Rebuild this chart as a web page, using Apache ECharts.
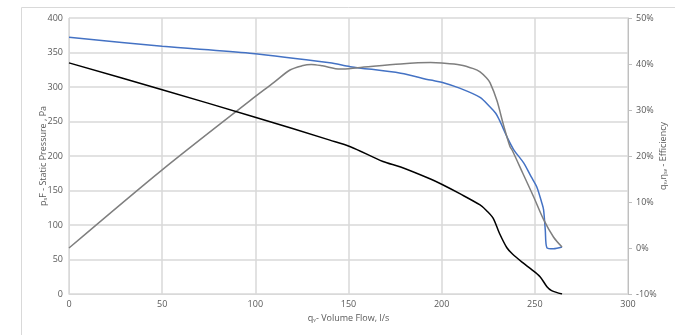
<!DOCTYPE html>
<html>
<head>
<meta charset="utf-8">
<script src="https://cdn.jsdelivr.net/npm/echarts@6/dist/echarts.min.js"></script>
<style>
  html, body { margin: 0; padding: 0; background: #fff; }
  #main { width: 675px; height: 335px; }
</style>
</head>
<body>
<div id="main"></div>
<script>
// static pressure (blue), left axis
const flowBlue = [0, 50, 97, 140, 151, 178, 194, 200, 210, 220.6, 226, 229, 231, 233, 235, 238.7, 244, 248, 251, 253.8, 254.7, 255.6, 256.5, 260, 264.6]
const pressureBlue = [372, 359, 349, 335, 329.5, 320, 310, 307, 298, 285, 271, 262, 252, 240, 228, 209, 190, 170, 155.5, 131.5, 122, 93, 67, 65.5, 68]

// black curve, left axis
const flowBlack = [0, 50, 99, 140, 151, 168.5, 178, 194, 200, 210, 220.6, 224, 227.6, 231, 235, 238, 243.7, 248, 252.8, 256.5, 259, 264.6]
const pressureBlack = [335, 296, 257, 223, 213.5, 192, 184, 166.6, 159, 145, 129, 121, 110, 88, 67, 58, 45, 36, 25, 10.6, 5, 0]

// efficiency (grey), right axis, %
const flowGrey = [0, 50, 97, 110, 118.6, 125, 130, 136, 145.5, 155, 178, 194, 200, 210, 217, 220.6, 224, 226, 229.7, 233, 236.7, 237.8, 243.6, 249.4, 254.8, 260, 264.6]
const efficiency = [0, 17, 32, 36, 38.7, 39.6, 39.9, 39.6, 38.9, 39.2, 40, 40.3, 40.2, 39.8, 39, 38.3, 37, 35.9, 32, 27, 22, 21.3, 16.2, 11.1, 6.1, 2.4, 0.2]

const pairs = (xs, ys) => xs.map((x, i) => [x, ys[i]])

const labelColor = '#595959'
const gridColor = '#d9d9d9'
const font = 'Open Sans'

const myChart = echarts.init(document.getElementById('main'))

const option = {
  animation: false,
  graphic: [
    {
      type: 'rect',
      shape: { x: 21.5, y: 7.5, width: 700, height: 400 },
      style: { fill: 'none', stroke: '#d9d9d9', lineWidth: 1 },
      silent: true,
      z: -10,
    },
  ],
  grid: { left: 69, right: 47, top: 18, bottom: 41, outerBoundsMode: 'none' },
  xAxis: {
    type: 'value',
    min: 0,
    max: 300,
    interval: 50,
    name: 'qᵥ- Volume Flow, l/s',
    nameLocation: 'middle',
    nameGap: 20,
    nameMoveOverlap: false,
    nameTextStyle: { color: labelColor, fontSize: 9, fontFamily: font },
    axisLine: { show: true, lineStyle: { color: gridColor } },
    axisTick: { show: false },
    axisLabel: { color: labelColor, fontSize: 9, fontFamily: font, margin: 6 },
    splitLine: { show: true, lineStyle: { color: gridColor, width: 1.5 } },
  },
  yAxis: [
    {
      type: 'value',
      min: 0,
      max: 400,
      interval: 50,
      name: 'pₛF - Static Pressure , Pa',
      nameLocation: 'middle',
      nameRotate: 90,
      nameGap: 21,
      nameMoveOverlap: false,
      nameTextStyle: { color: labelColor, fontSize: 9, fontFamily: font },
      axisLine: { show: true, lineStyle: { color: gridColor } },
      axisTick: { show: false },
      axisLabel: { color: labelColor, fontSize: 9, fontFamily: font, margin: 6 },
      splitLine: { show: true, lineStyle: { color: gridColor, width: 1.5 } },
    },
    {
      type: 'value',
      position: 'right',
      min: -10,
      max: 50,
      interval: 10,
      name: 'qᵥ,ηₛₑ - Efficiency',
      nameLocation: 'middle',
      nameRotate: 90,
      nameGap: 31,
      nameMoveOverlap: false,
      nameTextStyle: { color: labelColor, fontSize: 9, fontFamily: font },
      axisLine: { show: true, lineStyle: { color: '#bfbfbf' } },
      axisTick: { show: true, length: 4, lineStyle: { color: '#bfbfbf' } },
      axisLabel: { color: labelColor, fontSize: 9, fontFamily: font, margin: 8, formatter: '{value}%' },
      splitLine: { show: false },
    },
  ],
  series: [
    {
      name: 'Static Pressure',
      type: 'line',
      yAxisIndex: 0,
      smooth: 0.3,
      showSymbol: false,
      lineStyle: { color: '#4472c4', width: 1.5 },
      data: pairs(flowBlue, pressureBlue),
    },
    {
      name: 'Efficiency',
      type: 'line',
      yAxisIndex: 1,
      smooth: 0.3,
      showSymbol: false,
      lineStyle: { color: '#7f7f7f', width: 1.5 },
      data: pairs(flowGrey, efficiency),
    },
    {
      name: 'Pressure 2',
      type: 'line',
      yAxisIndex: 0,
      smooth: 0.3,
      showSymbol: false,
      lineStyle: { color: '#000000', width: 1.5 },
      data: pairs(flowBlack, pressureBlack),
    },
  ],
}

option && myChart.setOption(option)
</script>
</body>
</html>
